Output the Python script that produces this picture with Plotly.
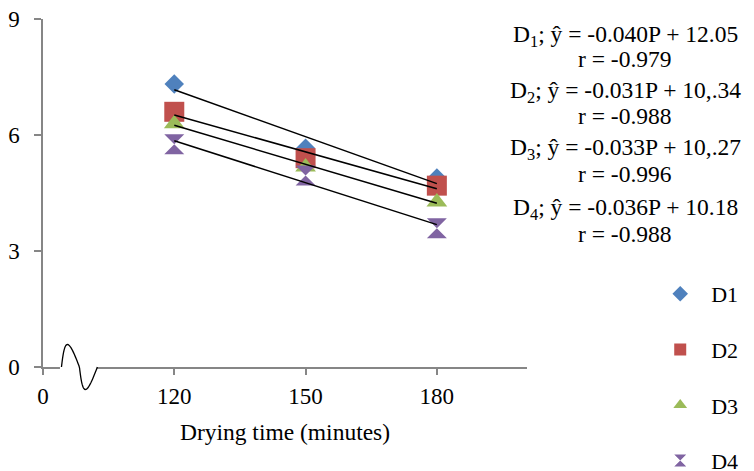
import numpy as np
import plotly.graph_objects as go

# ---- data ----
times = [120, 150, 180]
series_names = ["D1", "D2", "D3", "D4"]
d1 = [7.32, 5.66, 4.89]
d2 = [6.60, 5.40, 4.69]
d3 = [6.29, 5.17, 4.27]
d4 = [5.76, 4.95, 3.59]
series_values = [d1, d2, d3, d4]

x_tick_vals = [90, 120, 150, 180]
x_tick_text = ["0", "120", "150", "180"]
y_tick_vals = [0, 3, 6, 9]

equations = [
    "D<sub>1</sub>; ŷ = -0.040P + 12.05",
    "D<sub>2</sub>; ŷ = -0.031P + 10,.34",
    "D<sub>3</sub>; ŷ = -0.033P + 10,.27",
    "D<sub>4</sub>; ŷ = -0.036P + 10.18",
]
r_values = ["r = -0.979", "r = -0.988", "r = -0.996", "r = -0.988"]

# ---- styles ----
colors = ["#4F81BD", "#C0504D", "#9BBB59", "#8064A2"]
symbols = ["diamond", "square", "triangle-up", "hourglass"]
sizes = [15, 20, 18, 20]
FONT = "Liberation Serif, Times New Roman, serif"
AXIS_COLOR = "#868686"

fig = go.Figure()

for i, (name, vals) in enumerate(zip(series_names, series_values)):
    fig.add_trace(go.Scatter(
        x=times, y=vals, mode="markers", name="\u2002" + name,
        legendgroup=name,
        marker=dict(symbol=symbols[i], color=colors[i], size=sizes[i],
                    line=dict(width=0)),
    ))

# linear trend lines
for i, vals in enumerate(series_values):
    slope, intercept = np.polyfit(times, vals, 1)
    xs = [times[0], times[-1]]
    ys = [slope * x + intercept for x in xs]
    fig.add_trace(go.Scatter(x=xs, y=ys, mode="lines", showlegend=False,
                             line=dict(color="black", width=1.5),
                             hoverinfo="skip"))

# page offset (body margin) and plot area in page pixels
OFF = 8
W, H = 754 - OFF, 471 - OFF
X0, X1 = 90, 200.6
Y0, Y1 = 0, 9
L, R, T, B = 42.5 - OFF, 527.5 - OFF, 19 - OFF, 367 - OFF


def pxp(px):
    return (px - OFF - L) / (R - L)


def pyp(py):
    return (B - (py - OFF)) / (B - T)


# axis break: white gap + wave (paper coordinates, not clipped)
fig.add_shape(type="rect", xref="paper", yref="paper",
              x0=pxp(59.5), x1=pxp(96.5), y0=pyp(370), y1=pyp(364),
              fillcolor="white", line=dict(width=0), layer="above")
t = np.linspace(0, 1, 60)
wx = 61 + 36 * t - 3 * np.abs(np.sin(2 * np.pi * t))
wy = 367 - 22.5 * np.sin(2 * np.pi * t)
path = "M " + " L ".join(f"{pxp(a):.5f},{pyp(b):.5f}" for a, b in zip(wx, wy))
fig.add_shape(type="path", xref="paper", yref="paper", path=path,
              line=dict(color="black", width=1.3), layer="above")

# equation annotations
eq_y = [36, 92, 149, 209]
r_y = [59, 116, 174, 234]
for eq, rv, ey, ry in zip(equations, r_values, eq_y, r_y):
    for txt, yy in ((eq, ey), (rv, ry)):
        fig.add_annotation(text=txt, xref="paper", yref="paper",
                           x=pxp(626), y=pyp(yy),
                           showarrow=False, xanchor="center", yanchor="middle",
                           font=dict(family=FONT, size=23.5, color="black"))

fig.update_layout(
    width=W, height=H,
    margin=dict(l=L, r=W - R, t=T, b=H - B, autoexpand=False),
    paper_bgcolor="white", plot_bgcolor="white",
    font=dict(family=FONT, size=22, color="black"),
    showlegend=True,
    legend=dict(x=pxp(661), y=pyp(273),
                xanchor="left", yanchor="top",
                itemsizing="constant", traceorder="grouped",
                tracegroupgap=24,
                font=dict(family=FONT, size=22, color="black"),
                bgcolor="rgba(0,0,0,0)"),
    xaxis=dict(range=[X0, X1], tickvals=x_tick_vals, ticktext=x_tick_text,
               showline=True, linecolor=AXIS_COLOR, linewidth=1.5,
               ticks="outside", ticklen=6, tickcolor=AXIS_COLOR, tickwidth=1.5,
               showgrid=False, zeroline=False, ticklabelstandoff=2,
               ticklabeloverflow="allow",
               tickfont=dict(family=FONT, size=23, color="black"),
               title=dict(text="Drying time (minutes)", standoff=15,
                          font=dict(family=FONT, size=23.5, color="black"))),
    yaxis=dict(range=[Y0, Y1], tickvals=y_tick_vals,
               showline=True, linecolor=AXIS_COLOR, linewidth=1.5,
               ticks="outside", ticklen=7, tickcolor=AXIS_COLOR, tickwidth=1.5,
               showgrid=False, zeroline=False, ticklabelstandoff=10,
               ticklabeloverflow="allow",
               tickfont=dict(family=FONT, size=23, color="black")),
)

fig.write_html("out.html")
